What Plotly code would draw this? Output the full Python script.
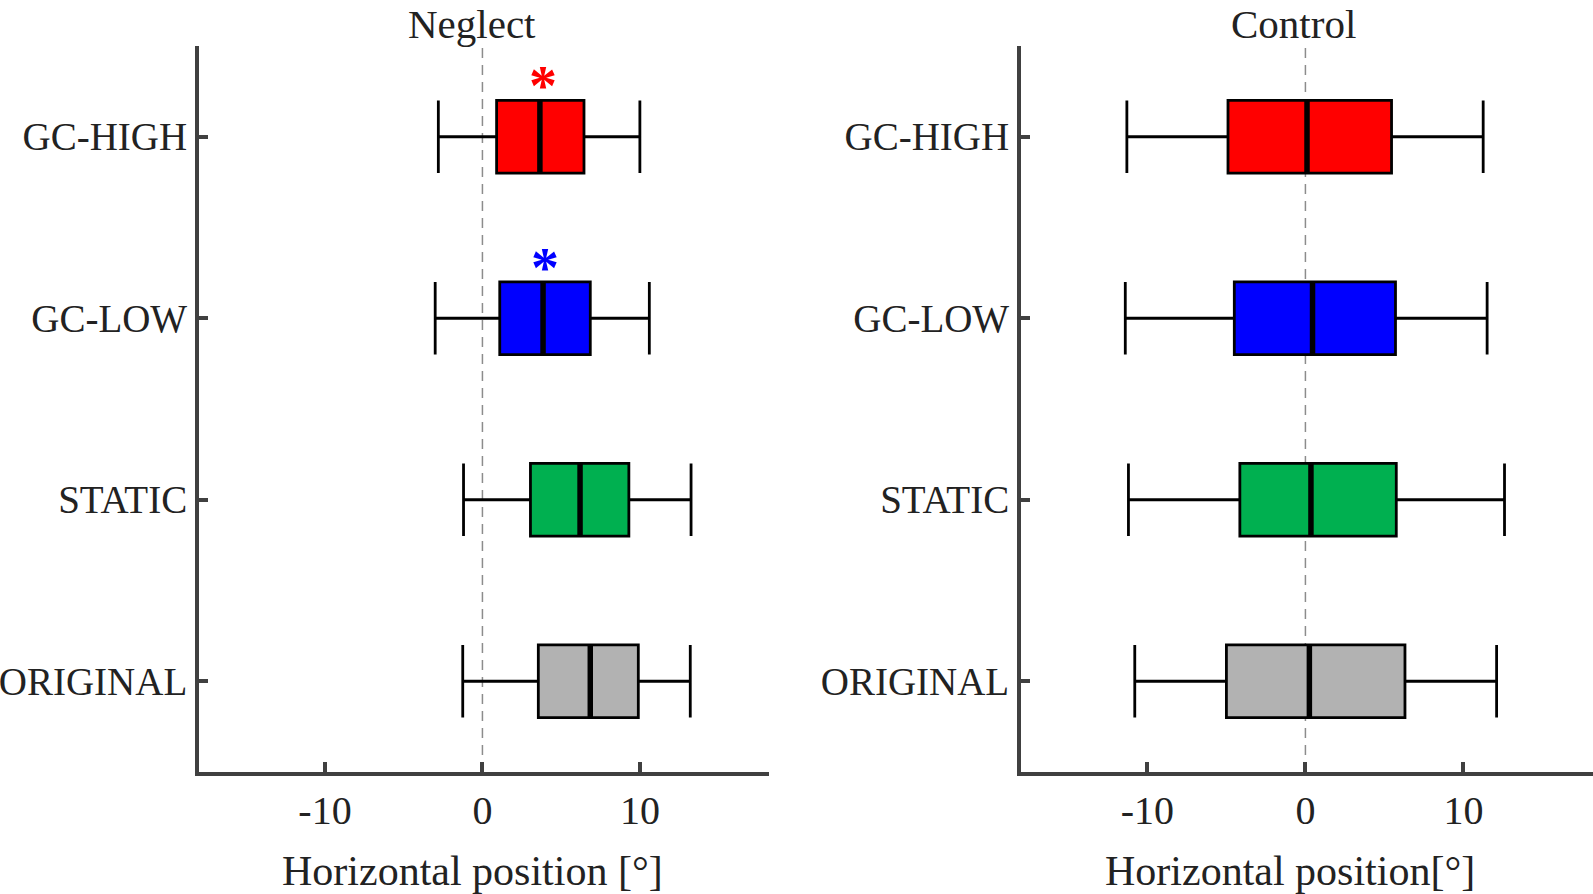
import plotly.graph_objects as go

# ---- data ----
categories = ["ORIGINAL", "STATIC", "GC-LOW", "GC-HIGH"]
positions = [1, 2, 3, 4]
colors = ["#B2B2B2", "#00B050", "#0000FF", "#FF0000"]

neglect_lo = [-1.25, -1.2, -3.0, -2.8]
neglect_q1 = [3.55, 3.05, 1.1, 0.9]
neglect_med = [6.85, 6.2, 3.85, 3.65]
neglect_q3 = [9.9, 9.3, 6.85, 6.45]
neglect_hi = [13.2, 13.25, 10.6, 10.0]

control_lo = [-10.8, -11.2, -11.4, -11.3]
control_q1 = [-5.0, -4.15, -4.5, -4.9]
control_med = [0.25, 0.35, 0.45, 0.1]
control_q3 = [6.3, 5.75, 5.7, 5.45]
control_hi = [12.1, 12.6, 11.5, 11.25]

# significance markers (neglect panel): x position, y position, colour
star_x = [3.85, 4.0]
star_y = [4.28, 3.275]
star_colors = ["#FF0000", "#0000FF"]

xticks = [-10, 0, 10]
BOX_W = 0.4
FONT = "Liberation Serif, Times New Roman, serif"
AXC = "#404040"

fig = go.Figure()

panels = [
    ("x", "y", neglect_lo, neglect_q1, neglect_med, neglect_q3, neglect_hi),
    ("x2", "y2", control_lo, control_q1, control_med, control_q3, control_hi),
]
for xa, ya, lo, q1, med, q3, hi in panels:
    for i, p in enumerate(positions):
        fig.add_trace(go.Box(
            y=[p], q1=[q1[i]], median=[med[i]], q3=[q3[i]],
            lowerfence=[lo[i]], upperfence=[hi[i]],
            orientation="h", width=BOX_W, whiskerwidth=1,
            fillcolor=colors[i], line=dict(color="black", width=2.8),
            boxpoints=False, showlegend=False, hoverinfo="skip",
            xaxis=xa, yaxis=ya,
        ))
        fig.add_trace(go.Scatter(
            x=[med[i], med[i]], y=[p - BOX_W / 2, p + BOX_W / 2],
            mode="lines", line=dict(color="black", width=5.5),
            showlegend=False, hoverinfo="skip", xaxis=xa, yaxis=ya,
        ))

for sx, sy, sc in zip(star_x, star_y, star_colors):
    fig.add_annotation(x=sx, y=sy, xref="x", yref="y", text="<b>*</b>",
                       showarrow=False, font=dict(family=FONT, size=56, color=sc))

# dashed zero lines
for xa, ya in [("x", "y"), ("x2", "y2")]:
    fig.add_shape(type="line", x0=0, x1=0, y0=0, y1=1,
                  xref=xa, yref=ya + " domain",
                  line=dict(color="#8C8C8C", width=1.5, dash="10px,7px"), layer="below")

W, H = 1593, 894
ml, mr, mt, mb = 199, 0, 46, 122
pw = W - ml - mr
d_left = [0, (769 - ml) / pw]
d_right = [(1021 - ml) / pw, 1.0]

xaxis_common = dict(
    range=[-18, 18.2], tickvals=xticks, ticktext=[str(v) for v in xticks],
    showline=True, linecolor=AXC, linewidth=4, ticks="inside", ticklen=10,
    tickwidth=4, tickcolor=AXC, showgrid=False, zeroline=False,
    tickfont=dict(family=FONT, size=40, color="#222222"),
)
yaxis_common = dict(
    range=[0.5, 4.5], tickvals=positions, ticktext=categories,
    showline=True, linecolor=AXC, linewidth=4, ticks="inside", ticklen=9,
    tickwidth=4, tickcolor=AXC, showgrid=False, zeroline=False,
    tickfont=dict(family=FONT, size=39, color="#222222"),
)

fig.update_layout(
    width=W, height=H,
    margin=dict(l=ml, r=mr, t=mt, b=mb),
    plot_bgcolor="white", paper_bgcolor="white",
    showlegend=False,
    xaxis=dict(xaxis_common, domain=d_left, anchor="y"),
    yaxis=dict(yaxis_common, domain=[0, 1], anchor="x"),
    xaxis2=dict(xaxis_common, domain=d_right, anchor="y2"),
    yaxis2=dict(yaxis_common, domain=[0, 1], anchor="x2"),
)

def px_x(px):
    return (px - ml) / pw

def px_y(py):
    return (H - mb - py) / (H - mt - mb)

texts = [
    ("Neglect", 472, 24, 41),
    ("Control", 1293, 24, 41),
    ("Horizontal position [°]", 472, 871, 42),
    ("Horizontal position[°]", 1290, 871, 42),
]
for t, x, y, s in texts:
    fig.add_annotation(x=px_x(x), y=px_y(y), xref="paper", yref="paper",
                       text=t, showarrow=False, xanchor="center", yanchor="middle",
                       borderpad=0,
                       font=dict(family=FONT, size=s, color="#222222"))

fig.write_html("out.html", config={"displayModeBar": False},
               post_script="document.body.style.margin='0px';document.body.style.overflow='hidden';")
